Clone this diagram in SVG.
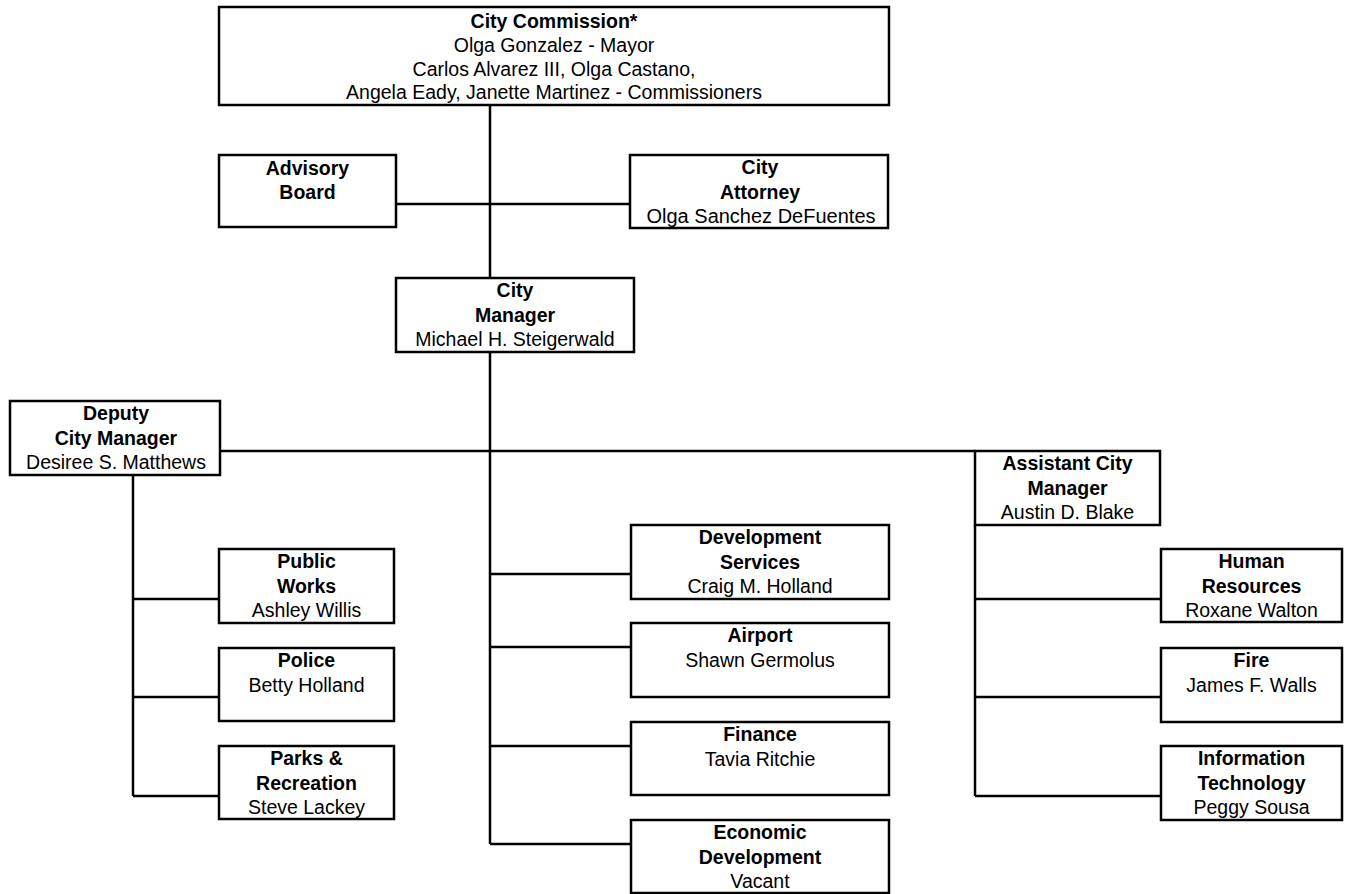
<svg xmlns="http://www.w3.org/2000/svg" width="1348" height="894" viewBox="0 0 1348 894">
<style>
.box{fill:#fff;stroke:#000;stroke-width:2.5}
.ln{stroke:#000;stroke-width:2.5;fill:none}
text{font-family:"Liberation Sans",Arial,sans-serif;font-size:19.5px;fill:#000;text-anchor:middle}
.b{font-weight:bold}
</style>
<rect width="1348" height="894" fill="#fff"/>
<g id="connectors">
<path class="ln" d="M490 105V278M396 204H630M490 352V844M220 451H975M133 475V796M133 599H219M133 697H219M133 796H219M490 574H631M490 647H631M490 746H631M490 844H631M975 525V796M975 599H1161M975 697H1161M975 796H1161"/>
</g>
<g id="city-commission">
<rect class="box" x="219" y="7" width="670" height="98"/>
<text class="b" x="554" y="28">City Commission*</text>
<text x="554" y="52">Olga Gonzalez - Mayor</text>
<text x="554" y="76">Carlos Alvarez III, Olga Castano,</text>
<text x="554" y="99">Angela Eady, Janette Martinez - Commissioners</text>
</g>
<g id="advisory-board">
<rect class="box" x="219" y="155" width="177" height="72"/>
<text class="b" x="307.5" y="175">Advisory</text>
<text class="b" x="307.5" y="198.5">Board</text>
</g>
<g id="city-attorney">
<rect class="box" x="630" y="155" width="258" height="73"/>
<text class="b" x="760" y="174">City</text>
<text class="b" x="760" y="198.5">Attorney</text>
<text x="761" y="223" style="font-size:20px">Olga Sanchez DeFuentes</text>
</g>
<g id="city-manager">
<rect class="box" x="396" y="278" width="238" height="74"/>
<text class="b" x="515" y="297">City</text>
<text class="b" x="515" y="321.5">Manager</text>
<text x="515" y="346">Michael H. Steigerwald</text>
</g>
<g id="deputy-city-manager">
<rect class="box" x="10" y="401" width="210" height="74"/>
<text class="b" x="116" y="420">Deputy</text>
<text class="b" x="116" y="444.5">City Manager</text>
<text x="116" y="469">Desiree S. Matthews</text>
</g>
<g id="assistant-city-manager">
<rect class="box" x="975" y="451" width="185" height="74"/>
<text class="b" x="1067.5" y="470">Assistant City</text>
<text class="b" x="1067.5" y="494.5">Manager</text>
<text x="1067.5" y="519">Austin D. Blake</text>
</g>
<g id="public-works">
<rect class="box" x="219" y="549" width="175" height="74"/>
<text class="b" x="306.5" y="568">Public</text>
<text class="b" x="306.5" y="592.5">Works</text>
<text x="306.5" y="617">Ashley Willis</text>
</g>
<g id="police">
<rect class="box" x="219" y="648" width="175" height="73"/>
<text class="b" x="306.5" y="667">Police</text>
<text x="306.5" y="691.5">Betty Holland</text>
</g>
<g id="parks-recreation">
<rect class="box" x="219" y="746" width="175" height="73"/>
<text class="b" x="306.5" y="765">Parks &amp;</text>
<text class="b" x="306.5" y="789.5">Recreation</text>
<text x="306.5" y="814">Steve Lackey</text>
</g>
<g id="development-services">
<rect class="box" x="631" y="525" width="258" height="74"/>
<text class="b" x="760" y="544">Development</text>
<text class="b" x="760" y="568.5">Services</text>
<text x="760" y="593">Craig M. Holland</text>
</g>
<g id="airport">
<rect class="box" x="631" y="623" width="258" height="74"/>
<text class="b" x="760" y="642">Airport</text>
<text x="760" y="666.5">Shawn Germolus</text>
</g>
<g id="finance">
<rect class="box" x="631" y="722" width="258" height="73"/>
<text class="b" x="760" y="741">Finance</text>
<text x="760" y="765.5">Tavia Ritchie</text>
</g>
<g id="economic-development">
<rect class="box" x="631" y="820" width="258" height="73"/>
<text class="b" x="760" y="839">Economic</text>
<text class="b" x="760" y="863.5">Development</text>
<text x="760" y="888">Vacant</text>
</g>
<g id="human-resources">
<rect class="box" x="1161" y="549" width="181" height="73"/>
<text class="b" x="1251.5" y="568">Human</text>
<text class="b" x="1251.5" y="592.5">Resources</text>
<text x="1251.5" y="617">Roxane Walton</text>
</g>
<g id="fire">
<rect class="box" x="1161" y="648" width="181" height="74"/>
<text class="b" x="1251.5" y="667">Fire</text>
<text x="1251.5" y="691.5">James F. Walls</text>
</g>
<g id="information-technology">
<rect class="box" x="1161" y="746" width="181" height="74"/>
<text class="b" x="1251.5" y="765">Information</text>
<text class="b" x="1251.5" y="789.5">Technology</text>
<text x="1251.5" y="814">Peggy Sousa</text>
</g>
</svg>
